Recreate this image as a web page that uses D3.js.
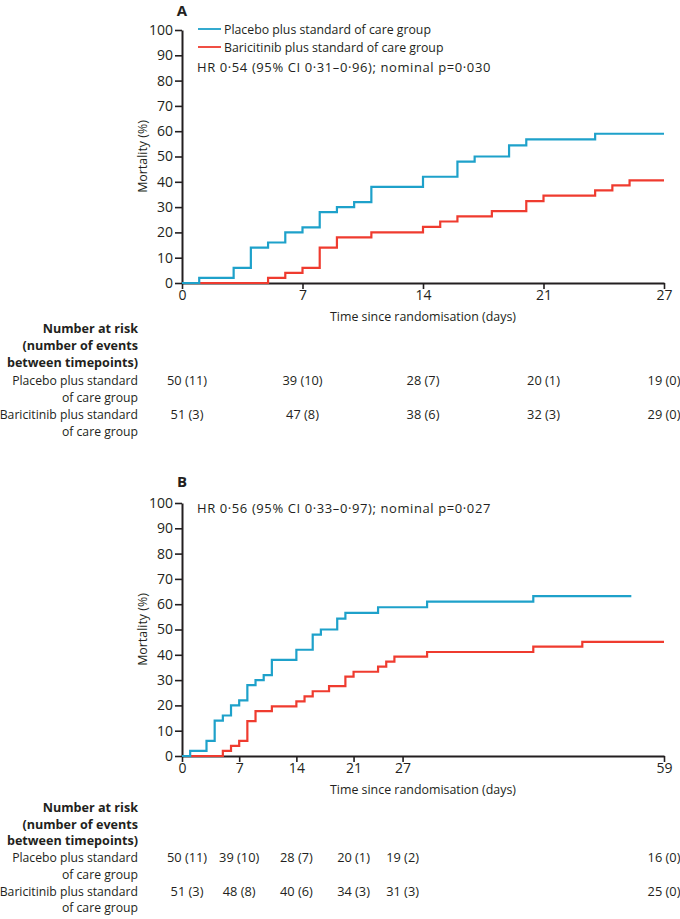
<!DOCTYPE html>
<html>
<head>
<meta charset="utf-8">
<script src="https://cdn.jsdelivr.net/npm/d3@7"></script>
<style>
  html, body { margin: 0; padding: 0; background: #fff; }
  svg { display: block; font-family: "Open Sans", "Noto Sans", sans-serif; }
</style>
</head>
<body>
<svg id="chart" width="680" height="919"></svg>
<script>
// ---------- DATA ----------
const groupNames = ["Placebo plus standard of care group", "Baricitinib plus standard of care group"];
const riskRowLabels = [["Placebo plus standard", "of care group"], ["Baricitinib plus standard", "of care group"]];
const riskHeader = ["Number at risk", "(number of events", "between timepoints)"];

// Panel A (to day 27)
const hrTextA = "HR 0·54 (95% CI 0·31–0·96); nominal p=0·030";
const xTickValsA = [0, 7, 14, 21, 28];
const xTickLabelsA = ["0", "7", "14", "21", "27"];
const placeboDaysA = [0, 1, 3, 4, 5, 6, 7, 8, 9, 10, 11, 14, 16, 17, 19, 20, 24, 28];
const placeboPctA  = [0, 2, 6, 14, 16, 20, 22, 28, 30, 32, 38, 42, 48, 50, 54.4, 56.8, 59, 59];
const baricitinibDaysA = [0, 5, 6, 7, 8, 9, 11, 14, 15, 16, 18, 20, 21, 24, 25, 26, 28];
const baricitinibPctA  = [0, 2, 4, 6, 14, 18, 20, 22.2, 24.3, 26.3, 28.4, 32.4, 34.5, 36.6, 38.6, 40.6, 40.6];
const riskPlaceboA = ["50 (11)", "39 (10)", "28 (7)", "20 (1)", "19 (0)"];
const riskBaricitinibA = ["51 (3)", "47 (8)", "38 (6)", "32 (3)", "29 (0)"];

// Panel B (to day 59)
const hrTextB = "HR 0·56 (95% CI 0·33–0·97); nominal p=0·027";
const xTickValsB = [0, 7, 14, 21, 27, 59];
const xTickLabelsB = ["0", "7", "14", "21", "27", "59"];
const placeboDaysB = [0, 1, 3, 4, 5, 6, 7, 8, 9, 10, 11, 14, 16, 17, 19, 20, 24, 30, 43, 55];
const placeboPctB  = [0, 2, 6, 14, 16, 20, 22, 28, 30, 32, 38, 42, 48, 50, 54.3, 56.6, 58.8, 61, 63.2, 63.2];
const baricitinibDaysB = [0, 5, 6, 7, 8, 9, 11, 14, 15, 16, 18, 20, 21, 24, 25, 26, 30, 43, 49, 59];
const baricitinibPctB  = [0, 2, 4, 6, 13.8, 17.7, 19.6, 21.6, 23.6, 25.6, 27.6, 31.4, 33.3, 35.3, 37.3, 39.3, 41.1, 43.2, 45.1, 45.1];
const riskPlaceboB = ["50 (11)", "39 (10)", "28 (7)", "20 (1)", "19 (2)", "16 (0)"];
const riskBaricitinibB = ["51 (3)", "48 (8)", "40 (6)", "34 (3)", "31 (3)", "25 (0)"];

const yTicks = [0, 10, 20, 30, 40, 50, 60, 70, 80, 90, 100];

// ---------- STYLE ----------
const BLUE = "#1ea1ca";
const RED = "#ef3b2f";
const INK = "#231f20";
const FS_TICK = 14;
const FS_LEG = 12.3;
const FS_HR = 13;
const FS_TAB = 12.2;
const FS_TTL = 12.4;

const svg = d3.select("#chart");

function panel(cfg) {
  const g = svg.append("g");
  const x = d3.scaleLinear().domain(cfg.xDomain).range([182, 664]);
  const y = d3.scaleLinear().domain([0, 100]).range([cfg.y0, cfg.y100]);

  // panel letter
  g.append("text").attr("x", 182).attr("y", cfg.letterY)
    .attr("text-anchor", "middle").attr("font-weight", 700).attr("font-size", 15)
    .attr("fill", INK).text(cfg.letter);

  // y axis
  const ya = g.append("g").attr("transform", "translate(182,0)")
    .call(d3.axisLeft(y).tickValues(yTicks).tickSize(7).tickSizeOuter(0).tickPadding(2));
  // x axis
  const xa = g.append("g").attr("transform", `translate(0,${cfg.y0})`)
    .call(d3.axisBottom(x).tickValues(cfg.xTicks).tickFormat((d, i) => cfg.xLabels[i])
      .tickSize(6).tickSizeOuter(0).tickPadding(1));
  [ya, xa].forEach(a => {
    a.select(".domain").attr("stroke", INK).attr("stroke-width", 2);
    a.selectAll(".tick line").attr("stroke", INK).attr("stroke-width", 1.6);
    a.selectAll(".tick text").attr("fill", INK).attr("font-size", FS_TICK)
      .attr("font-family", "'Open Sans', sans-serif");
  });

  // axis titles
  g.append("text").attr("transform", `translate(147,${(cfg.y0 + cfg.y100) / 2}) rotate(-90)`)
    .attr("text-anchor", "middle").attr("font-size", FS_TTL).attr("fill", INK).text("Mortality (%)");
  g.append("text").attr("x", 423).attr("y", cfg.y0 + 38)
    .attr("text-anchor", "middle").attr("font-size", FS_TTL).attr("fill", INK)
    .text("Time since randomisation (days)");

  // curves
  const line = d3.line().x(d => x(d[0])).y(d => y(d[1])).curve(d3.curveStepAfter);
  const series = [
    { days: cfg.bDays, pct: cfg.bPct, color: RED },
    { days: cfg.pDays, pct: cfg.pPct, color: BLUE }
  ];
  series.forEach(s => {
    g.append("path").datum(s.days.map((d, i) => [d, s.pct[i]]))
      .attr("d", line).attr("fill", "none").attr("stroke", s.color)
      .attr("stroke-width", 2.2);
  });

  // legend
  let ty = cfg.y100 + 10;
  if (cfg.legend) {
    [BLUE, RED].forEach((c, i) => {
      const ly = cfg.y100 - 1 + i * 18;
      g.append("line").attr("x1", 198).attr("x2", 221).attr("y1", ly).attr("y2", ly)
        .attr("stroke", c).attr("stroke-width", 1.8);
      g.append("text").attr("x", 224).attr("y", ly + 4.5).attr("font-size", FS_LEG)
        .attr("fill", INK).text(groupNames[i]);
    });
    ty = cfg.y100 + 41.5;
  }
  g.append("text").attr("x", 197).attr("y", ty).attr("font-size", FS_HR)
    .attr("letter-spacing", 0.6).attr("fill", INK).text(cfg.hr);

  // risk table
  const rt = cfg.riskTop;
  const lh = cfg.lh;
  riskHeader.forEach((t, i) => {
    g.append("text").attr("x", 138).attr("y", rt + i * lh).attr("text-anchor", "end")
      .attr("font-size", FS_TAB + 0.4).attr("font-weight", 700).attr("fill", INK).text(t);
  });
  riskRowLabels.forEach((lines, r) => {
    lines.forEach((t, j) => {
      g.append("text").attr("x", 138).attr("y", rt + (3 + r * 2 + j) * lh)
        .attr("text-anchor", "end").attr("font-size", FS_TAB).attr("fill", INK).text(t);
    });
  });
  [cfg.riskP, cfg.riskB].forEach((vals, r) => {
    vals.forEach((v, i) => {
      g.append("text").attr("x", x(cfg.xTicks[i]) + (i === 0 ? 5 : 0))
        .attr("y", rt + (3 + r * 2) * lh)
        .attr("text-anchor", "middle").attr("font-size", FS_TAB + 0.6).attr("fill", INK).text(v);
    });
  });
}

panel({
  letter: "A", letterY: 16, xDomain: [0, 28], y0: 283, y100: 30,
  xTicks: xTickValsA, xLabels: xTickLabelsA,
  pDays: placeboDaysA, pPct: placeboPctA, bDays: baricitinibDaysA, bPct: baricitinibPctA,
  legend: true, hr: hrTextA, riskTop: 333, lh: 17.2, riskP: riskPlaceboA, riskB: riskBaricitinibA
});
panel({
  letter: "B", letterY: 487, xDomain: [0, 59], y0: 756, y100: 503,
  xTicks: xTickValsB, xLabels: xTickLabelsB,
  pDays: placeboDaysB, pPct: placeboPctB, bDays: baricitinibDaysB, bPct: baricitinibPctB,
  legend: false, hr: hrTextB, riskTop: 812, lh: 16.7, riskP: riskPlaceboB, riskB: riskBaricitinibB
});
</script>
</body>
</html>
